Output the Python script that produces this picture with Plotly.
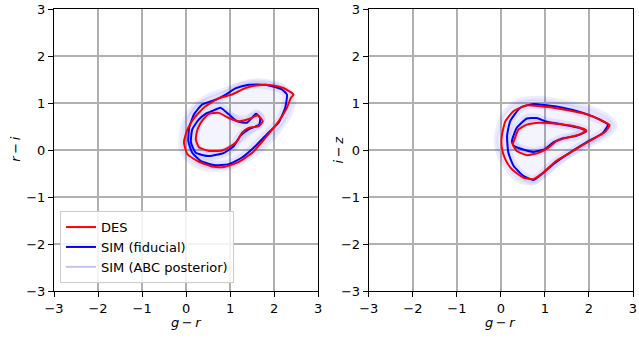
import plotly.graph_objects as go

# ---------------- data ----------------
# Left panel: g-r vs r-i
L_des_outer_x = [2.44, 2.21, 1.95, 1.65, 1.35, 1.04, 0.74, 0.44, 0.18, 0.03, -0.05, 0.03, 0.29, 0.59, 0.86, 1.16, 1.50, 1.80, 2.10, 2.29, 2.38]
L_des_outer_y = [1.18, 1.32, 1.38, 1.38, 1.32, 1.18, 1.10, 0.93, 0.68, 0.44, 0.16, -0.09, -0.25, -0.35, -0.36, -0.27, -0.06, 0.26, 0.61, 0.90, 1.11]
L_des_inner_x = [0.52, 0.74, 0.97, 1.20, 1.46, 1.63, 1.74, 1.65, 1.42, 1.27, 1.16, 1.01, 0.82, 0.52, 0.29, 0.22, 0.26, 0.37]
L_des_inner_y = [0.77, 0.79, 0.68, 0.61, 0.67, 0.74, 0.61, 0.51, 0.47, 0.37, 0.19, 0.08, -0.01, -0.02, 0.06, 0.23, 0.44, 0.63]
L_fid_outer_x = [0.07, 0.18, 0.37, 0.67, 0.90, 1.12, 1.42, 1.80, 2.17, 2.29, 2.25, 2.10, 1.87, 1.57, 1.27, 0.97, 0.63, 0.33, 0.14, 0.05]
L_fid_outer_y = [0.47, 0.76, 0.97, 1.07, 1.18, 1.31, 1.39, 1.39, 1.29, 1.18, 0.90, 0.58, 0.37, 0.08, -0.16, -0.30, -0.32, -0.23, -0.06, 0.19]
L_fid_inner_x = [0.59, 0.78, 0.97, 1.16, 1.38, 1.59, 1.68, 1.66, 1.42, 1.23, 1.08, 0.86, 0.52, 0.22, 0.11, 0.14, 0.29, 0.44]
L_fid_inner_y = [0.83, 0.90, 0.76, 0.61, 0.58, 0.77, 0.68, 0.54, 0.44, 0.30, 0.08, -0.06, -0.13, -0.06, 0.16, 0.44, 0.65, 0.77]
L_abc_outer_x = [-0.12, -0.05, 0.15, 0.50, 0.95, 1.40, 1.90, 2.30, 2.45, 2.35, 2.10, 1.70, 1.30, 0.90, 0.45, 0.10, -0.10]
L_abc_outer_y = [0.20, 0.60, 0.90, 1.15, 1.30, 1.45, 1.45, 1.30, 1.10, 0.75, 0.40, 0.00, -0.25, -0.40, -0.40, -0.25, 0.00]
L_abc_inner_x = [0.25, 0.35, 0.60, 0.95, 1.30, 1.65, 1.75, 1.55, 1.25, 0.95, 0.60, 0.30]
L_abc_inner_y = [0.30, 0.62, 0.80, 0.75, 0.68, 0.78, 0.65, 0.45, 0.22, 0.02, -0.03, 0.05]

# Right panel: g-r vs i-z
R_des_outer_x = [0.02, 0.10, 0.29, 0.59, 0.89, 1.19, 1.56, 1.94, 2.28, 2.47, 2.35, 2.01, 1.64, 1.26, 0.96, 0.74, 0.51, 0.25, 0.10, 0.02]
R_des_outer_y = [0.30, 0.61, 0.83, 0.95, 0.93, 0.90, 0.84, 0.76, 0.63, 0.53, 0.37, 0.19, -0.02, -0.23, -0.48, -0.62, -0.59, -0.41, -0.20, 0.05]
R_des_inner_x = [0.32, 0.40, 0.59, 0.89, 1.26, 1.64, 1.94, 1.79, 1.49, 1.26, 1.08, 0.85, 0.59, 0.36, 0.27]
R_des_inner_y = [0.26, 0.44, 0.54, 0.58, 0.56, 0.51, 0.42, 0.33, 0.26, 0.19, 0.05, -0.06, -0.11, -0.02, 0.12]
R_fid_outer_x = [0.14, 0.21, 0.44, 0.74, 1.04, 1.41, 1.87, 2.24, 2.43, 2.32, 1.94, 1.56, 1.19, 0.92, 0.74, 0.51, 0.29, 0.17]
R_fid_outer_y = [0.30, 0.61, 0.90, 0.98, 0.95, 0.90, 0.79, 0.65, 0.54, 0.37, 0.16, -0.06, -0.30, -0.52, -0.64, -0.55, -0.34, -0.06]
R_fid_inner_x = [0.25, 0.36, 0.59, 0.81, 1.04, 1.41, 1.79, 1.94, 1.71, 1.41, 1.19, 1.00, 0.74, 0.47, 0.29]
R_fid_inner_y = [0.19, 0.47, 0.67, 0.68, 0.60, 0.54, 0.47, 0.40, 0.30, 0.25, 0.16, 0.02, -0.04, 0.02, 0.09]
R_abc_outer_x = [-0.10, 0.05, 0.40, 0.90, 1.50, 2.00, 2.45, 2.60, 2.40, 2.00, 1.50, 1.10, 0.75, 0.40, 0.10, -0.08]
R_abc_outer_y = [0.30, 0.75, 1.05, 1.10, 1.00, 0.90, 0.70, 0.50, 0.30, 0.10, -0.15, -0.45, -0.70, -0.65, -0.35, 0.00]
R_abc_inner_x = [0.35, 0.45, 0.70, 1.10, 1.55, 1.85, 1.60, 1.30, 1.00, 0.65, 0.40]
R_abc_inner_y = [0.20, 0.45, 0.60, 0.58, 0.52, 0.42, 0.30, 0.20, 0.02, -0.05, 0.05]

tick_vals = [-3, -2, -1, 0, 1, 2, 3]
labels = ["DES", "SIM (fiducial)", "SIM (ABC posterior)"]
x_title = "<i>g</i>\u2009−\u2009<i>r</i>"
y_titles = ["<i>r</i>\u2009−\u2009<i>i</i>", "<i>i</i>\u2009−\u2009<i>z</i>"]

RED = "#ff0000"
BLUE = "#0000ff"
ABC_LINE = "rgba(0,0,255,0.07)"
ABC_FILL = "rgba(0,0,255,0.045)"

def close(a):
    return list(a) + [a[0]]

fig = go.Figure()

panels = [
    ("x", "y", (L_abc_outer_x, L_abc_outer_y, L_abc_inner_x, L_abc_inner_y),
     (L_fid_outer_x, L_fid_outer_y, L_fid_inner_x, L_fid_inner_y),
     (L_des_outer_x, L_des_outer_y, L_des_inner_x, L_des_inner_y)),
    ("x2", "y2", (R_abc_outer_x, R_abc_outer_y, R_abc_inner_x, R_abc_inner_y),
     (R_fid_outer_x, R_fid_outer_y, R_fid_inner_x, R_fid_inner_y),
     (R_des_outer_x, R_des_outer_y, R_des_inner_x, R_des_inner_y)),
]

for pi, (xa, ya, abc, fid, des) in enumerate(panels):
    # ABC posterior haze: annulus between outer and inner posterior contours (hole via nonzero rule)
    ring_x = close(abc[0]) + close(abc[2])
    ring_y = close(abc[1]) + close(abc[3])
    fig.add_trace(go.Scatter(x=ring_x, y=ring_y, mode="lines", fill="toself",
                             fillcolor=ABC_FILL, line=dict(width=0, shape="spline", smoothing=0.8),
                             xaxis=xa, yaxis=ya, showlegend=False, hoverinfo="skip"))
    for k in (0, 2):
        fig.add_trace(go.Scatter(x=close(abc[k]), y=close(abc[k + 1]), mode="lines",
                                 line=dict(color=ABC_LINE, width=5, shape="spline", smoothing=0.8),
                                 xaxis=xa, yaxis=ya, showlegend=False, hoverinfo="skip"))
        fig.add_trace(go.Scatter(x=close(fid[k]), y=close(fid[k + 1]), mode="lines",
                                 line=dict(color="rgba(0,0,255,0.07)", width=9, shape="spline", smoothing=0.8),
                                 xaxis=xa, yaxis=ya, showlegend=False, hoverinfo="skip"))
    # fiducial
    for k in (0, 2):
        fig.add_trace(go.Scatter(x=close(fid[k]), y=close(fid[k + 1]), mode="lines",
                                 line=dict(color=BLUE, width=2, shape="spline", smoothing=0.5),
                                 xaxis=xa, yaxis=ya, showlegend=False, hoverinfo="skip"))
    # DES
    for k in (0, 2):
        fig.add_trace(go.Scatter(x=close(des[k]), y=close(des[k + 1]), mode="lines",
                                 line=dict(color=RED, width=2, shape="spline", smoothing=0.5),
                                 xaxis=xa, yaxis=ya, showlegend=False, hoverinfo="skip"))

# legend entries
for name, col in [(labels[0], RED), (labels[1], BLUE), (labels[2], "rgba(195,195,245,1)")]:
    fig.add_trace(go.Scatter(x=[None], y=[None], mode="lines", line=dict(color=col, width=2),
                             name=name, xaxis="x", yaxis="y", showlegend=True))

axis_common = dict(range=[-3, 3], tickvals=tick_vals, showgrid=True, gridcolor="#b0b0b0", gridwidth=1.6,
                   zeroline=False, showline=True, linecolor="black", linewidth=1.2, mirror=True,
                   ticks="outside", ticklen=5, tickwidth=1.2, tickcolor="black",
                   tickfont=dict(size=13, color="black"), fixedrange=True)

ann_font = dict(family="DejaVu Sans", size=13, color="black")
annotations = [
    dict(text=x_title, x=0.2281, y=-0.113, xref="paper", yref="paper", showarrow=False,
         xanchor="center", yanchor="middle", font=ann_font),
    dict(text=x_title, x=0.7719, y=-0.113, xref="paper", yref="paper", showarrow=False,
         xanchor="center", yanchor="middle", font=ann_font),
    dict(text=y_titles[0], x=-0.0669, y=0.5018, xref="paper", yref="paper", showarrow=False,
         xanchor="center", yanchor="middle", textangle=-90, font=ann_font),
    dict(text=y_titles[1], x=0.4906, y=0.5018, xref="paper", yref="paper", showarrow=False,
         xanchor="center", yanchor="middle", textangle=-90, font=ann_font),
]

fig.update_layout(
    width=639, height=339,
    margin=dict(l=54, r=2, t=8, b=48),
    paper_bgcolor="white", plot_bgcolor="white",
    font=dict(family="DejaVu Sans", size=13, color="black"),
    xaxis=dict(domain=[0, 0.4563], anchor="y", **axis_common),
    yaxis=dict(domain=[0, 1], anchor="x", **axis_common),
    xaxis2=dict(domain=[0.5437, 1], anchor="y2", **axis_common),
    yaxis2=dict(domain=[0, 1], anchor="x2", **axis_common),
    annotations=annotations,
    legend=dict(x=0.0103, y=0.028, xanchor="left", yanchor="bottom",
                bgcolor="rgba(255,255,255,0.85)", bordercolor="#cccccc", borderwidth=1,
                font=dict(size=13), itemwidth=30, tracegroupgap=0),
    showlegend=True,
)

fig.write_html("out.html")
